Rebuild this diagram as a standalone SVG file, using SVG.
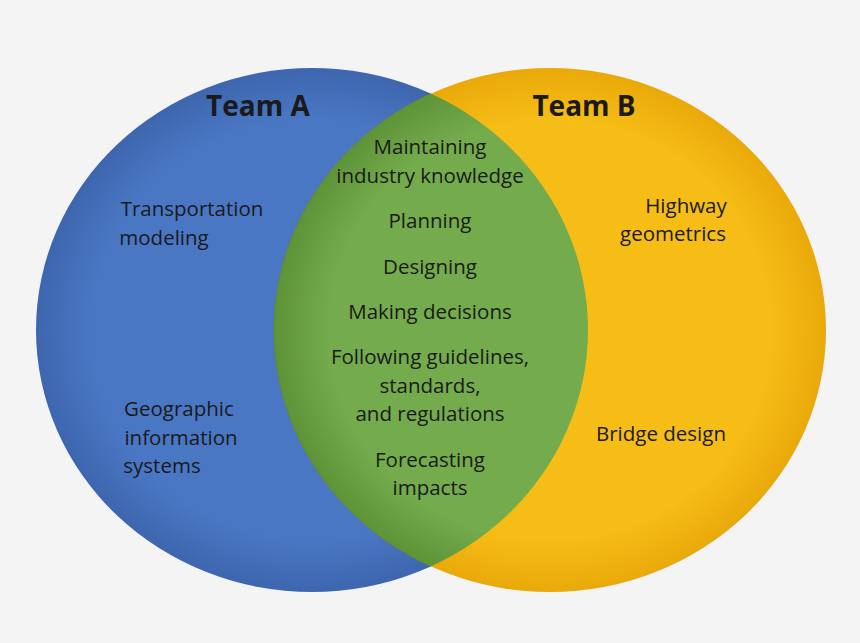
<svg xmlns="http://www.w3.org/2000/svg" width="860" height="643" viewBox="0 0 860 643">
<style>
text{font-family:"Open Sans","Liberation Sans",sans-serif;font-size:20.5px;fill:#1a1a1a;text-anchor:middle}
.t{font-size:28px;font-weight:bold}
</style>
<defs>
<radialGradient id="gb" cx="0.5" cy="0.5" r="0.5"><stop offset="0.8" stop-color="#4a77c4"/><stop offset="1" stop-color="#3d66ae"/></radialGradient>
<radialGradient id="gy" cx="0.5" cy="0.5" r="0.5"><stop offset="0.8" stop-color="#f6bd16"/><stop offset="1" stop-color="#e9a90a"/></radialGradient>
<radialGradient id="gg" cx="0.5" cy="0.5" r="0.5"><stop offset="0.8" stop-color="#74ab4c"/><stop offset="1" stop-color="#5e9438"/></radialGradient>
<clipPath id="cl"><ellipse cx="312" cy="330" rx="276" ry="262"/></clipPath>
</defs>
<rect width="860" height="643" fill="#f4f4f4"/>
<g id="teamA"><ellipse cx="312" cy="330" rx="276" ry="262" fill="url(#gb)"/></g>
<g id="teamB"><ellipse cx="550" cy="330" rx="276" ry="262" fill="url(#gy)"/></g>
<g id="overlap"><ellipse cx="550" cy="330" rx="276" ry="262" fill="url(#gg)" clip-path="url(#cl)" stroke="#5a8a36" stroke-width="1"/></g>
<g id="labels">
<text class="t" x="258" y="116">Team A</text>
<text class="t" x="584" y="116">Team B</text>
<text x="192" y="216">Transportation</text>
<text x="164" y="245">modeling</text>
<text x="179" y="416">Geographic</text>
<text x="181" y="445">information</text>
<text x="162" y="473">systems</text>
<text x="686" y="213">Highway</text>
<text x="673" y="241">geometrics</text>
<text x="661" y="441">Bridge design</text>
<text x="430" y="154">Maintaining</text>
<text x="430" y="183">industry knowledge</text>
<text x="430" y="228">Planning</text>
<text x="430" y="274">Designing</text>
<text x="430" y="319">Making decisions</text>
<text x="430" y="364">Following guidelines,</text>
<text x="430" y="393">standards,</text>
<text x="430" y="421">and regulations</text>
<text x="430" y="467">Forecasting</text>
<text x="430" y="495">impacts</text>
</g>
<g id="connectors"/>
</svg>
